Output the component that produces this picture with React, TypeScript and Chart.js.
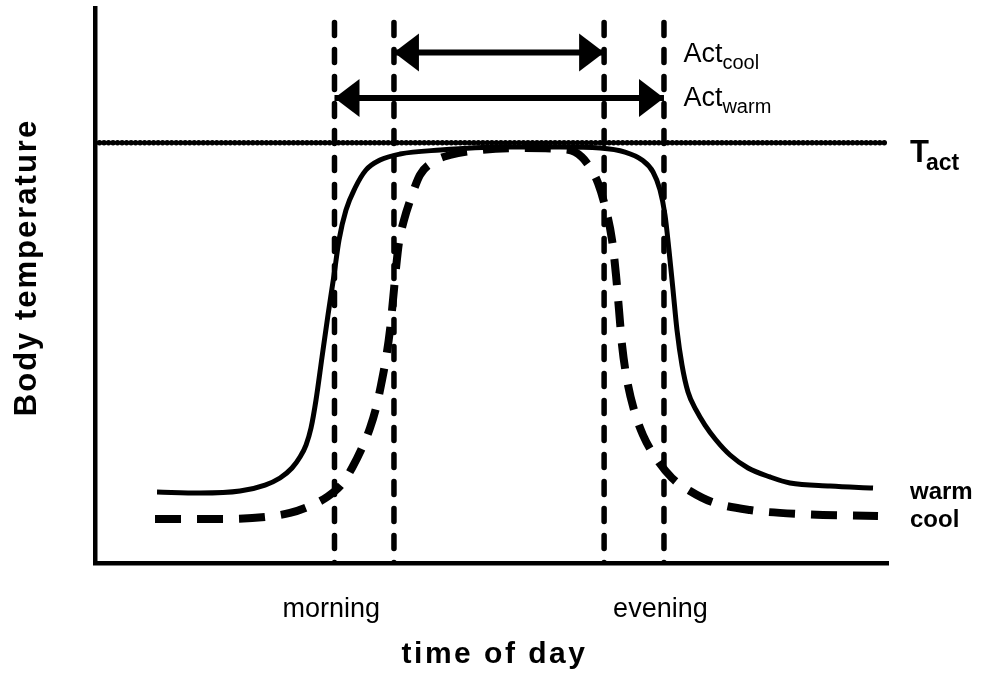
import React, { useEffect, useRef } from 'react';
import { Chart, registerables } from 'chart.js';

Chart.register(...registerables);

// time of day (0..100 arbitrary units) and body temperature (0..100 arbitrary units)
const warmTime = [7.82, 13.24, 18.28, 21.44, 23.33, 24.84, 25.85, 26.61, 27.24, 27.87, 28.63, 29.38, 30.14, 30.77, 31.65, 32.79, 34.17, 35.94, 38.46, 43.51, 51.07, 58.64, 63.68, 66.83, 68.98, 70.37, 71.25, 71.88, 72.38, 72.89, 73.39, 74.02, 74.78, 75.79, 76.92, 78.31, 80.08, 82.35, 85.12, 87.64, 92.69, 98.11];
const warmTemp = [12.79, 12.61, 12.97, 14.05, 15.32, 17.12, 19.1, 21.26, 24.32, 29.37, 37.12, 44.68, 51.89, 58.2, 63.6, 67.57, 70.81, 72.61, 73.69, 74.41, 74.95, 74.95, 74.77, 74.05, 72.61, 70.45, 67.21, 62.7, 56.4, 49.19, 41.98, 35.68, 30.81, 27.57, 24.86, 22.16, 19.46, 17.12, 15.5, 14.41, 13.87, 13.51];

const coolTime = [7.57, 16.39, 21.44, 24.59, 27.11, 29.26, 31.15, 32.41, 33.67, 34.68, 35.44, 36.07, 36.7, 37.2, 37.58, 37.96, 38.34, 38.97, 39.85, 40.98, 42.62, 44.77, 48.55, 53.59, 58.64, 60.53, 62.04, 63.43, 64.44, 65.2, 65.7, 66.08, 66.46, 67.09, 67.97, 69.1, 70.74, 72.76, 75.03, 77.81, 82.6, 88.9, 98.74];
const coolTemp = [7.93, 7.93, 8.29, 9.01, 10.27, 11.89, 14.23, 17.12, 20.72, 24.32, 27.93, 32.07, 36.94, 41.98, 47.39, 53.15, 57.84, 61.8, 65.77, 69.91, 72.25, 73.51, 74.41, 74.77, 74.59, 74.05, 72.07, 68.47, 63.6, 58.2, 51.89, 45.59, 39.28, 32.97, 27.57, 23.06, 18.92, 15.32, 12.97, 10.99, 9.55, 8.83, 8.47];

const switchTimes = [30.2, 37.7, 64.2, 71.75];
const switchTop = 97.4;
const tActLevel = 75.7;
const tActSpan = [0, 99.6];
const actCoolSpan = [37.7, 64.2];
const actCoolLevel = 92.0;
const actWarmSpan = [30.2, 71.75];
const actWarmLevel = 83.8;
const tickTimes = [29.8, 71.3];
const tickLabels = ['morning', 'evening'];
const seriesNames = ['warm', 'cool'];

const FAMILY = '"Liberation Sans", Arial, Helvetica, sans-serif';
const font = (w: string, s: number) => `${w} ${s}px ${FAMILY}`;

const pts = (xs: number[], ys: number[]) => xs.map((x, i) => ({ x, y: ys[i] }));

const annotationPlugin = {
  id: 'annotations',
  afterDatasetsDraw(chart: any) {
    const { ctx, chartArea, scales } = chart;
    const x = scales.x;
    const y = scales.y;
    ctx.save();
    ctx.fillStyle = '#000';

    const head = (tx: number, ty: number, dir: number) => {
      ctx.beginPath();
      ctx.moveTo(tx, ty);
      ctx.lineTo(tx + dir * 25, ty - 19);
      ctx.lineTo(tx + dir * 25, ty + 19);
      ctx.closePath();
      ctx.fill();
    };
    const arrows: [number[], number][] = [
      [actCoolSpan, actCoolLevel],
      [actWarmSpan, actWarmLevel],
    ];
    arrows.forEach(([span, level]) => {
      const py = y.getPixelForValue(level);
      head(x.getPixelForValue(span[0]), py, 1);
      head(x.getPixelForValue(span[1]), py, -1);
    });

    ctx.textAlign = 'left';
    ctx.textBaseline = 'alphabetic';
    const withSub = (main: string, sub: string, px: number, base: number, mf: string, sf: string, dy: number, kern: number) => {
      ctx.font = mf;
      ctx.fillText(main, px, base);
      const w = ctx.measureText(main).width;
      ctx.font = sf;
      ctx.fillText(sub, px + w + kern, base + dy);
    };
    const labelX = x.getPixelForValue(74.2);
    withSub('Act', 'cool', labelX, y.getPixelForValue(actCoolLevel) + 9.5, font('normal', 27), font('normal', 20), 7, 0);
    withSub('Act', 'warm', labelX, y.getPixelForValue(actWarmLevel) + 8, font('normal', 27), font('normal', 20), 7, 0);

    const rightX = chartArea.right + 22;
    withSub('T', 'act', rightX, y.getPixelForValue(tActLevel) + 19, font('bold', 31), font('bold', 23), 8, -3);

    ctx.font = font('bold', 24);
    ctx.fillText(seriesNames[0], rightX, y.getPixelForValue(warmTemp[warmTemp.length - 1]) + 11);
    ctx.fillText(seriesNames[1], rightX, y.getPixelForValue(coolTemp[coolTemp.length - 1]) + 11);

    // axis titles
    ctx.textAlign = 'center';
    (ctx as any).letterSpacing = '2.5px';
    ctx.font = font('bold', 30);
    ctx.fillText('time of day', (chartArea.left + chartArea.right) / 2 + 3, chartArea.bottom + 100);

    (ctx as any).letterSpacing = '2px';
    ctx.font = font('bold', 31);
    ctx.translate(36, (chartArea.top + chartArea.bottom) / 2 - 18);
    ctx.rotate(-Math.PI / 2);
    ctx.fillText('Body temperature', 0, 0);
    ctx.restore();
  },
};

export default function App() {
  const ref = useRef<HTMLCanvasElement | null>(null);

  useEffect(() => {
    if (!ref.current) return;
    const black = '#000';
    const base = { borderColor: black, backgroundColor: black, pointRadius: 0, fill: false };
    const datasets: any[] = [
      {
        ...base,
        label: 'warm',
        data: pts(warmTime, warmTemp),
        borderWidth: 5,
        cubicInterpolationMode: 'monotone',
      },
      {
        ...base,
        label: 'cool',
        data: pts(coolTime, coolTemp),
        borderWidth: 8,
        borderDash: [26, 16],
        cubicInterpolationMode: 'monotone',
      },
      {
        ...base,
        label: 'Tact',
        data: [
          { x: tActSpan[0], y: tActLevel },
          { x: tActSpan[1], y: tActLevel },
        ],
        borderWidth: 5.5,
        borderDash: [0.01, 4.5],
        borderCapStyle: 'round',
      },
      ...switchTimes.map((t) => ({
        ...base,
        label: 'switch',
        data: [
          { x: t, y: switchTop },
          { x: t, y: 0 },
        ],
        borderWidth: 5.5,
        borderDash: [13, 14],
        borderCapStyle: 'round',
      })),
      {
        ...base,
        label: 'Act cool',
        data: [
          { x: actCoolSpan[0], y: actCoolLevel },
          { x: actCoolSpan[1], y: actCoolLevel },
        ],
        borderWidth: 6,
      },
      {
        ...base,
        label: 'Act warm',
        data: [
          { x: actWarmSpan[0], y: actWarmLevel },
          { x: actWarmSpan[1], y: actWarmLevel },
        ],
        borderWidth: 6,
      },
    ];

    const chart = new Chart(ref.current, {
      type: 'line',
      data: { datasets },
      plugins: [annotationPlugin],
      options: {
        animation: false,
        responsive: false,
        devicePixelRatio: 1,
        events: [],
        layout: { padding: { left: 0, top: 8, right: 97, bottom: 0 } },
        plugins: { legend: { display: false }, tooltip: { enabled: false }, title: { display: false } },
        scales: {
          x: {
            type: 'linear',
            min: 0,
            max: 100,
            position: 'bottom',
            grid: { display: false, drawTicks: false },
            border: { display: true, color: black, width: 4.5 },
            ticks: {
              color: black,
              padding: 30,
              autoSkip: false,
              maxRotation: 0,
              font: { family: FAMILY, size: 27 },
              callback: (_v: any, i: number) => tickLabels[i] ?? '',
            },
            afterBuildTicks: (s: any) => {
              s.ticks = tickTimes.map((v) => ({ value: v }));
            },
            afterFit: (s: any) => {
              s.height = 111;
            },
          },
          y: {
            type: 'linear',
            min: 0,
            max: 100,
            grid: { display: false, drawTicks: false },
            border: { display: true, color: black, width: 4.5 },
            ticks: { display: false },
            afterFit: (s: any) => {
              s.width = 95;
            },
          },
        },
      } as any,
    });
    return () => chart.destroy();
  }, []);

  return (
    <div style={{ position: 'absolute', left: 0, top: 0, width: 985, height: 674, background: '#fff' }}>
      <canvas ref={ref} width={985} height={674} style={{ display: 'block', width: 985, height: 674 }} />
    </div>
  );
}
